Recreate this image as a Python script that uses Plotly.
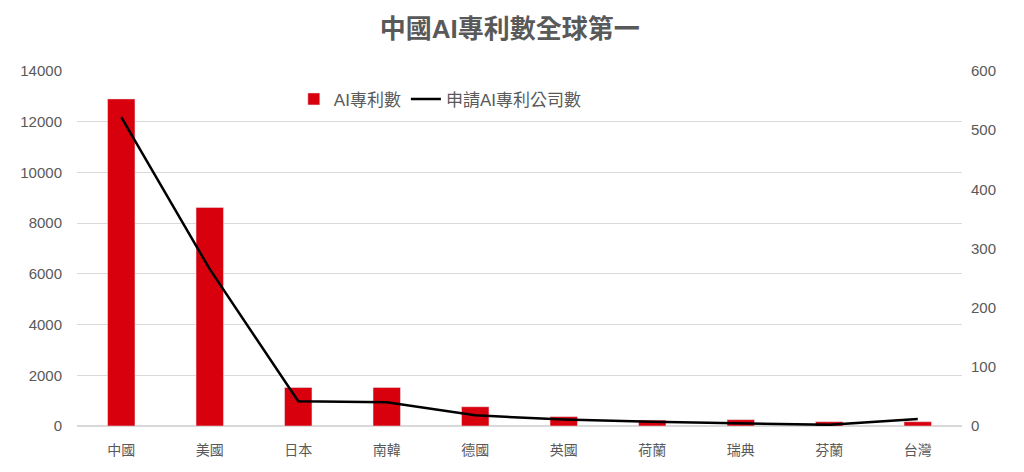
import plotly.graph_objects as go

# Countries and values
countries = ['中國', '美國', '日本', '南韓', '德國', '英國', '荷蘭', '瑞典', '芬蘭', '台灣']
patents = [12900, 8620, 1520, 1520, 760, 370, 230, 250, 170, 170]
companies = [522, 265, 42, 40, 18, 11, 7, 4, 2, 12]

FONT = 'Liberation Sans, Noto Sans CJK TC, sans-serif'
GREY = '#595959'

fig = go.Figure()

fig.add_trace(go.Bar(
    x=countries, y=patents, name='AI專利數',
    marker=dict(color='#d9000d'),
))

fig.add_trace(go.Scatter(
    x=countries, y=companies, name='申請AI專利公司數',
    mode='lines', yaxis='y2',
    line=dict(color='black', width=2.5),
))

# the page body adds 8px, so margins are shifted to compensate
fig.update_layout(
    width=1024, height=472,
    margin=dict(l=67, r=70, t=63, b=54),
    paper_bgcolor='white', plot_bgcolor='white',
    font=dict(family=FONT, color=GREY, size=14),
    title=dict(text='<b>中國AI專利數全球第一</b>', x=0.49, xanchor='center', y=0.955, yanchor='middle',
               font=dict(size=26, color=GREY, family=FONT)),
    bargap=0.69,
    showlegend=True,
    legend=dict(orientation='h', x=0.245, xanchor='left', y=0.92, yanchor='middle',
                font=dict(size=17, color=GREY), bgcolor='rgba(0,0,0,0)'),
    xaxis=dict(showline=False, ticks='', tickfont=dict(size=14, color=GREY), ticklabelstandoff=14),
    yaxis=dict(range=[0, 14000], dtick=2000, tickformat='d', showgrid=True, gridcolor='#d9d9d9',
               zeroline=True, zerolinecolor='#d9d9d9', tickfont=dict(size=15, color=GREY),
               ticklabelstandoff=14),
    yaxis2=dict(range=[0, 600], dtick=100, tickformat='d', overlaying='y', side='right', showgrid=False,
                zeroline=False, tickfont=dict(size=15, color=GREY), ticklabelstandoff=8),
)

fig.write_html("out.html")
